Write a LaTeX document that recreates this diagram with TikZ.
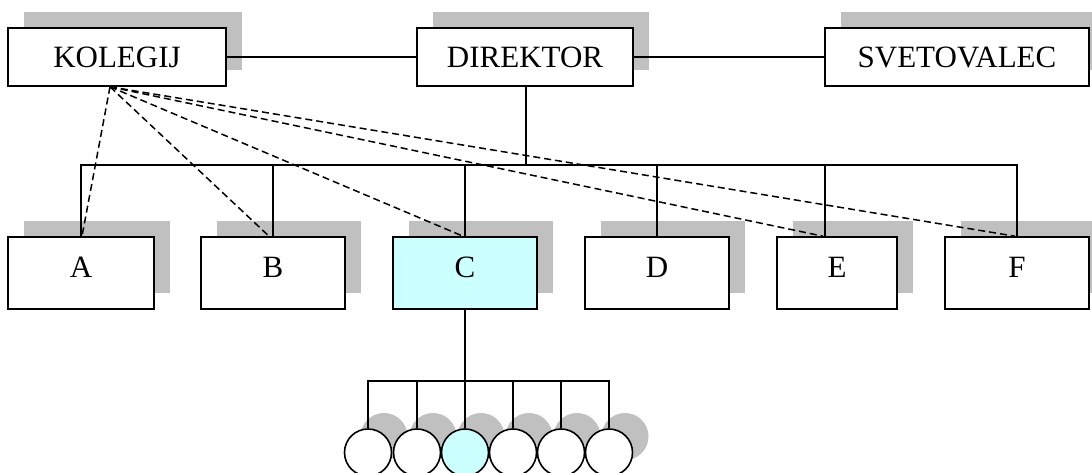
\documentclass[tikz,border=0pt]{standalone}
\usepackage{fontspec}
\setmainfont{Liberation Serif}
\usetikzlibrary{shadows}
\definecolor{shade}{HTML}{C0C0C0}
\definecolor{cfill}{HTML}{CCFFFF}
\tikzset{
  grayshadow/.style={drop shadow={shadow xshift=16pt, shadow yshift=16pt, opacity=1, fill=shade}},
  orgbox/.style={draw, line width=1.6pt, fill=white, inner sep=0pt,
    minimum height=58pt, font=\fontsize{31}{36}\selectfont, grayshadow},
  unitbox/.style={orgbox, minimum height=72pt, minimum width=144pt, text depth=11pt},
  member/.style={circle, draw, line width=1.6pt, fill=white, inner sep=0pt,
    minimum size=47pt, grayshadow},
  link/.style={line width=1.6pt},
  advice/.style={line width=1.5pt, dash pattern=on 7pt off 4pt},
}
\begin{document}
\begin{tikzpicture}[x=1pt,y=-1pt]
\useasboundingbox (0,0) rectangle (1092,472);
\clip (0,0) rectangle (1092,472);
\fill[white] (0,0) rectangle (1092,472);

% management level
\node[orgbox, minimum width=218pt] (kol) at (117,57) {KOLEGIJ};
\node[orgbox, minimum width=216pt] (dir) at (525,57) {DIREKTOR};
\node[orgbox, minimum width=264pt] (sve) at (957,57) {SVETOVALEC};

% departments
\node[unitbox, minimum width=146pt] (A) at (81,273) {A};
\node[unitbox] (B) at (273,273) {B};
\node[unitbox, fill=cfill] (C) at (465,273) {C};
\node[unitbox] (D) at (657,273) {D};
\node[unitbox, minimum width=120pt] (E) at (837,273) {E};
\node[unitbox] (F) at (1017,273) {F};

% members of department C
\node[member] (m1) at (368,452.5) {};
\node[member] (m2) at (417,452.5) {};
\node[member, fill=cfill] (m3) at (465,452.5) {};
\node[member] (m4) at (513,452.5) {};
\node[member] (m5) at (561,452.5) {};
\node[member] (m6) at (609,452.5) {};

% top row links
\draw[link] (kol) -- (dir);
\draw[link] (dir) -- (sve);

% director to departments
\coordinate (bus) at (526,165);
\coordinate (etop) at ([xshift=-12pt]E.north);
\draw[link] ([xshift=1pt]dir.south) -- (bus);
\draw[link] (A.north) -- (A.north |- bus) -- (F.north |- bus) -- (F.north);
\foreach \n in {B,C,D} \draw[link] (\n.north) -- (\n.north |- bus);
\draw[link] (etop) -- (etop |- bus);

% advisory links from the board
\coordinate (kolfoot) at ([xshift=-7pt]kol.south);
\draw[advice] (kolfoot) -- ([xshift=1pt]A.north);
\draw[advice] (kolfoot) -- ([xshift=-4pt]B.north);
\draw[advice] (kolfoot) -- ([xshift=-2pt]C.north);
\draw[advice] (kolfoot) -- ([xshift=-14pt]E.north);
\draw[advice] (kolfoot) -- ([xshift=-2pt]F.north);

% department C to its members
\coordinate (cbus) at (465,381);
\draw[link] (C.south) -- (cbus);
\draw[link] (m1.north) -- (m1.north |- cbus) -- (m6.north |- cbus) -- (m6.north);
\foreach \n in {m2,m3,m4,m5} \draw[link] (\n.north) -- (\n.north |- cbus);
\end{tikzpicture}
\end{document}
